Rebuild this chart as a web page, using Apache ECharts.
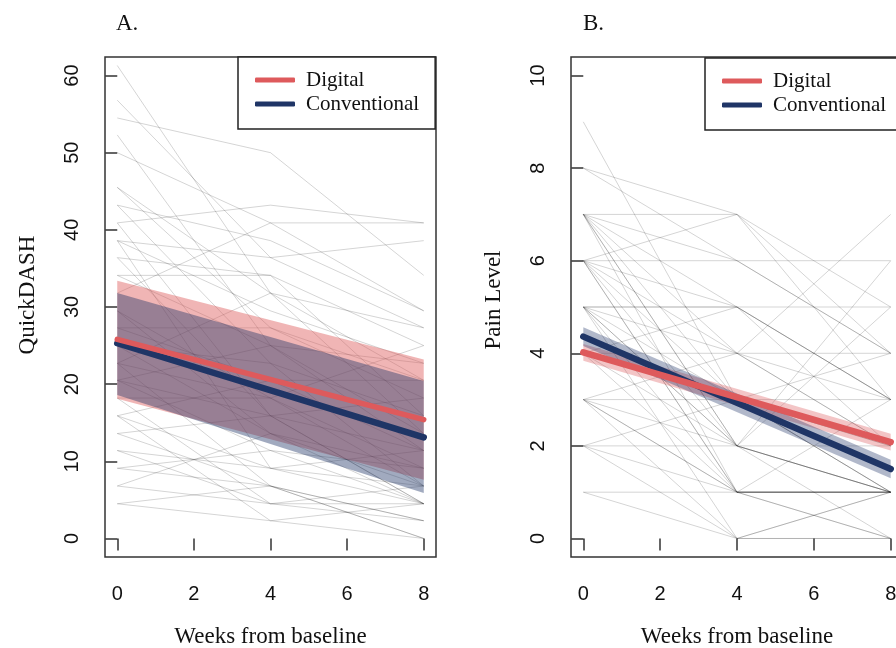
<!DOCTYPE html>
<html>
<head>
<meta charset="utf-8">
<script src="https://cdn.jsdelivr.net/npm/echarts@6/dist/echarts.min.js"></script>
<style>
  html, body { margin: 0; background: #fff; }
  #chart { width: 896px; height: 648px; }
</style>
</head>
<body>
<div id="chart"></div>
<script>
// visit weeks for the individual trajectories, and the ends of the fitted lines
var weeks = [0, 4, 8];
var fitWeeks = [0, 8];

// QuickDASH, one value per patient at week 0 / 4 / 8
var dashW0 = [61.3, 56.8, 54.5, 52.3, 50.0, 45.5, 43.2, 43.2, 40.9, 38.6, 38.6, 38.6, 36.4, 34.1, 31.8, 29.5,
              27.3, 25.0, 22.7, 22.7, 20.5, 18.2, 15.9, 13.6, 11.4, 9.1, 6.8, 4.5, 45.5, 27.3, 20.5, 18.2,
              15.9, 13.6, 11.4, 9.1, 6.8, 25.0, 29.5, 34.1, 4.5, 20.5, 36.4, 40.9, 15.9, 22.7];
var dashW4 = [31.8, 36.4, 50.0, 25.0, 40.9, 27.3, 38.6, 22.7, 15.9, 36.4, 29.5, 9.1, 34.1, 34.1, 40.9, 18.2,
              20.5, 13.6, 31.8, 6.8, 15.9, 4.5, 20.5, 6.8, 9.1, 11.4, 4.5, 2.3, 31.8, 27.3, 11.4, 18.2,
              9.1, 15.9, 4.5, 6.8, 13.6, 22.7, 13.6, 25.0, 6.8, 25.0, 15.9, 43.2, 2.3, 18.2];
var dashW8 = [20.5, 27.3, 34.1, 11.4, 40.9, 18.2, 29.5, 6.8, 4.5, 38.6, 22.7, 4.5, 25.0, 15.9, 29.5, 9.1,
              20.5, 6.8, 13.6, 0.0, 18.2, 4.5, 11.4, 2.3, 6.8, 4.5, 2.3, 0.0, 27.3, 20.5, 9.1, 6.8,
              11.4, 4.5, 6.8, 0.0, 4.5, 15.9, 9.1, 22.7, 2.3, 13.6, 11.4, 40.9, 4.5, 25.0];

// pain level, one value per patient at week 0 / 4 / 8
var painW0 = [9, 8, 7, 7, 7, 7, 7, 7, 7, 6, 6, 6, 6, 6, 6, 6, 5, 5, 5, 5, 5, 5,
              5, 4, 4, 4, 4, 3, 3, 3, 3, 3, 2, 2, 2, 1, 1, 7, 6, 5, 8, 3, 4, 2];
var painW4 = [3, 7, 7, 5, 4, 1, 2, 3, 6, 6, 7, 4, 1, 2, 5, 3, 5, 3, 1, 4, 2, 0,
              5, 4, 2, 1, 3, 1, 1, 2, 3, 4, 2, 1, 3, 1, 0, 2, 1, 2, 6, 0, 5, 0];
var painW8 = [1, 3, 5, 3, 2, 1, 0, 1, 4, 6, 4, 3, 1, 1, 2, 2, 5, 1, 0, 2, 1, 1,
              3, 4, 1, 1, 2, 1, 0, 1, 3, 7, 2, 1, 4, 1, 0, 5, 3, 6, 4, 0, 3, 1];

// fitted means and confidence bands (weeks 0 and 8)
var dashDigital = [25.8, 15.4];
var dashDigitalLo = [18.1, 7.6];
var dashDigitalHi = [33.4, 23.2];
var dashConv = [25.3, 13.1];
var dashConvLo = [18.6, 5.9];
var dashConvHi = [31.8, 20.4];

var painDigital = [4.02, 2.08];
var painDigitalLo = [3.84, 1.9];
var painDigitalHi = [4.2, 2.26];
var painConv = [4.36, 1.5];
var painConvLo = [4.16, 1.3];
var painConvHi = [4.56, 1.7];

var xTicks = [0, 2, 4, 6, 8];
var dashTicks = [0, 10, 20, 30, 40, 50, 60];
var painTicks = [0, 2, 4, 6, 8, 10];

var serif = "'Liberation Serif', 'Times New Roman', serif";
var sans = "'Liberation Sans', Arial, sans-serif";
var red = '#de5a5c';
var navy = '#1f3566';

var chart = echarts.init(document.getElementById('chart'));

function xAxis(gi) {
  return {
    type: 'value', gridIndex: gi, min: -0.32, max: 8.32,
    name: 'Weeks from baseline', nameLocation: 'middle', nameGap: 68,
    nameTextStyle: { fontFamily: serif, fontSize: 23, color: '#111' },
    axisLine: { show: false },
    axisTick: { show: true, length: 12, customValues: xTicks, lineStyle: { color: '#333', width: 1.5 } },
    axisLabel: { customValues: xTicks, margin: 27, fontFamily: sans, fontSize: 20, color: '#111' },
    splitLine: { show: false }
  };
}

function yAxis(gi, name, min, max, ticks, shift) {
  return {
    type: 'value', gridIndex: gi, min: min, max: max,
    name: name, nameLocation: 'middle', nameGap: 66, nameRotate: 90,
    nameTextStyle: { fontFamily: serif, fontSize: 23, color: '#111', padding: [0, 0, 0, shift] },
    axisLine: { show: false },
    axisTick: { show: true, length: 12, customValues: ticks, lineStyle: { color: '#333', width: 1.5 } },
    axisLabel: { customValues: ticks, rotate: 90, margin: 23, fontFamily: sans, fontSize: 20, color: '#111' },
    splitLine: { show: false }
  };
}

function spaghetti(w0, w4, w8, gi) {
  return w0.map(function (v, i) {
    return {
      type: 'line', xAxisIndex: gi, yAxisIndex: gi, silent: true, symbol: 'none', z: 1,
      data: [[weeks[0], v], [weeks[1], w4[i]], [weeks[2], w8[i]]],
      lineStyle: { color: 'rgba(0,0,0,0.17)', width: 1 }
    };
  });
}

function band(lo, hi, color, gi) {
  return {
    type: 'custom', xAxisIndex: gi, yAxisIndex: gi, silent: true, z: 2,
    data: [[fitWeeks[0], lo[0], hi[0], fitWeeks[1], lo[1], hi[1]]],
    renderItem: function (params, api) {
      var pts = [
        api.coord([api.value(0), api.value(1)]),
        api.coord([api.value(3), api.value(4)]),
        api.coord([api.value(3), api.value(5)]),
        api.coord([api.value(0), api.value(2)])
      ];
      return { type: 'polygon', shape: { points: pts }, style: { fill: color } };
    }
  };
}

function fit(name, vals, color, width, gi) {
  return {
    type: 'line', name: name, xAxisIndex: gi, yAxisIndex: gi, silent: true, symbol: 'none', z: 3,
    data: fitWeeks.map(function (w, i) { return [w, vals[i]]; }),
    itemStyle: { color: color },
    lineStyle: { color: color, width: width, cap: 'round' }
  };
}

function legend(left, top) {
  return {
    left: left, top: top, orient: 'vertical', icon: 'roundRect',
    itemWidth: 40, itemHeight: 5, itemGap: 0,
    padding: [11, 16, 13, 17],
    backgroundColor: '#fff', borderColor: '#222', borderWidth: 1.5, borderRadius: 0,
    data: ['Digital', 'Conventional'], selectedMode: false,
    textStyle: { fontFamily: serif, fontSize: 21, color: '#111', lineHeight: 24, padding: [0, 0, 0, 6] }
  };
}

var series = []
  .concat(spaghetti(dashW0, dashW4, dashW8, 0))
  .concat(spaghetti(painW0, painW4, painW8, 1))
  .concat([
    band(dashDigitalLo, dashDigitalHi, 'rgba(222,90,92,0.45)', 0),
    band(dashConvLo, dashConvHi, 'rgba(31,53,102,0.42)', 0),
    fit('Conventional', dashConv, navy, 6.5, 0),
    fit('Digital', dashDigital, red, 5.5, 0),
    band(painDigitalLo, painDigitalHi, 'rgba(222,90,92,0.35)', 1),
    band(painConvLo, painConvHi, 'rgba(31,53,102,0.35)', 1),
    fit('Conventional', painConv, navy, 6.5, 1),
    fit('Digital', painDigital, red, 6.5, 1)
  ]);

chart.setOption({
  animation: false,
  backgroundColor: '#fff',
  title: [
    { text: 'A.', left: 111, top: 7, textStyle: { fontFamily: serif, fontSize: 23, fontWeight: 'normal', color: '#111' } },
    { text: 'B.', left: 578, top: 7, textStyle: { fontFamily: serif, fontSize: 23, fontWeight: 'normal', color: '#111' } }
  ],
  legend: [legend(238, 57), legend(705, 58)],
  grid: [
    { left: 105, top: 57, width: 331, height: 500, outerBoundsMode: 'none', show: true, borderColor: '#333', borderWidth: 1.5 },
    { left: 571, top: 57, width: 332, height: 500, outerBoundsMode: 'none', show: true, borderColor: '#333', borderWidth: 1.5 }
  ],
  xAxis: [xAxis(0), xAxis(1)],
  yAxis: [
    yAxis(0, 'QuickDASH', -2.4, 62.4, dashTicks, 24),
    yAxis(1, 'Pain Level', -0.4, 10.4, painTicks, 14)
  ],
  series: series
});
</script>
</body>
</html>
